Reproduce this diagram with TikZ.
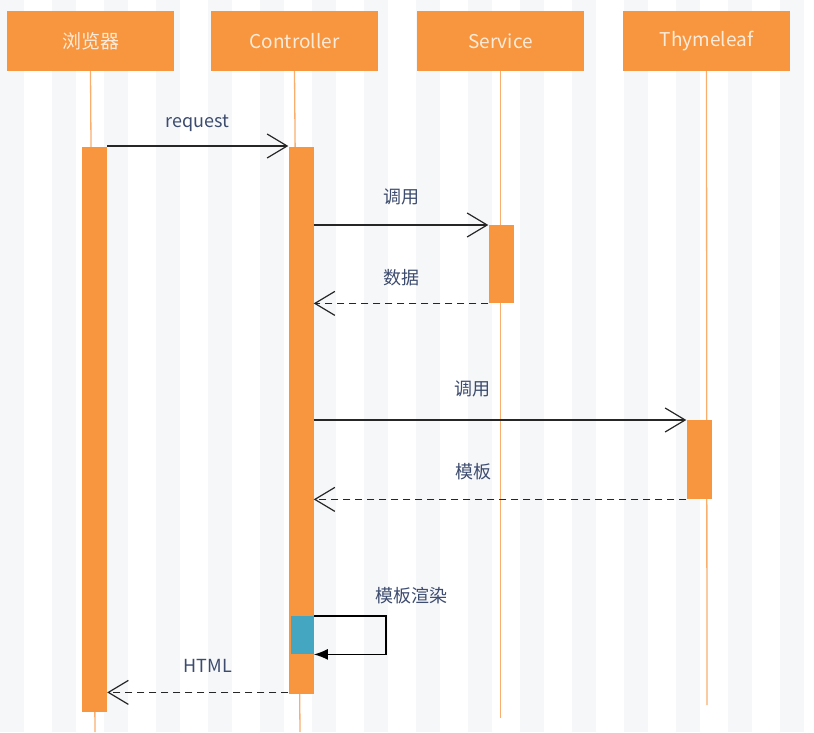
\documentclass[tikz,border=0pt]{standalone}
\usepackage{fontspec}
\setmainfont{Noto Sans CJK SC}
\usetikzlibrary{arrows.meta}

\definecolor{lifeorange}{HTML}{F7963F}
\definecolor{lineorange}{HTML}{F9AE6E}
\definecolor{headtext}{HTML}{FDEBDA}
\definecolor{labeltext}{HTML}{3C4B6E}
\definecolor{renderblue}{HTML}{45A6C2}
\definecolor{stripe}{HTML}{F6F7F9}

\tikzset{
  header/.style={fill=lifeorange, minimum width=167pt, minimum height=60pt,
    text=headtext, font=\fontsize{19}{22}\selectfont, inner sep=0pt},
  actbar/.style={fill=lifeorange, minimum width=25pt, inner sep=0pt, anchor=north},
  life/.style={lineorange, line width=1.3pt},
  msg/.style={black!85, line width=1.2pt, -{Straight Barb[length=20pt, width=24pt, line width=1.2pt]}},
  reply/.style={msg, dash pattern=on 7pt off 5pt},
  msglabel/.style={text=labeltext, font=\fontsize{18}{21}\selectfont},
}

\begin{document}
\begin{tikzpicture}[x=1pt, y=-1pt]

  \useasboundingbox (0,0) rectangle (814,732);
  % faint background stripes
  \foreach \x in {0,52,...,800}
    \fill[stripe] (\x,0) rectangle ++(24,732);

  % participants
  \node[header] (browser) at (90.5,41) {浏览器};
  \node[header] (ctrl) at (294.5,41) {Controller};
  \node[header] (service) at (500.5,41) {Service};
  \node[header] (thyme) at (706.5,41) {Thymeleaf};

  % lifelines
  \coordinate (browserend) at (95,732);
  \coordinate (ctrlend) at (300,732);
  \coordinate (serviceend) at (500.5,718);
  \coordinate (thymeend) at (707,705);
  \draw[life] (browser.south) -- (browserend);
  \draw[life] (ctrl.south) -- (ctrlend);
  \draw[life] (service.south) -- (serviceend);
  \draw[life] (thyme.south) -- (thymeend);

  % activation bars
  \node[actbar, minimum height=565pt] (browserbar) at (94.5,147) {};
  \node[actbar, minimum height=547pt] (ctrlbar) at (301,147) {};
  \node[actbar, minimum height=78pt] (servicebar) at (501,225) {};
  \node[actbar, minimum height=79pt] (thymebar) at (699,420) {};
  \node[fill=renderblue, minimum width=23pt, minimum height=38pt, inner sep=0pt,
    anchor=north west] (render) at (290.5,616) {};

  % messages
  \draw[msg] ([yshift=1pt]browserbar.north east) --
    node[msglabel, above=10pt] {request}
    ([yshift=1pt]ctrlbar.north west);

  \draw[msg] (ctrlbar.east |- servicebar.north west) --
    node[msglabel, above=16pt] {调用}
    (servicebar.north west);
  \draw[reply] (servicebar.south west) --
    node[msglabel, above=13pt] {数据}
    (ctrlbar.east |- servicebar.south west);

  \draw[msg] (ctrlbar.east |- thymebar.north west) --
    node[msglabel, above=19pt, xshift=-28pt] {调用}
    (thymebar.north west);
  \draw[reply] (thymebar.south west) --
    node[msglabel, above=16pt, xshift=-27pt] {模板}
    (ctrlbar.east |- thymebar.south west);

  % self call
  \draw[black, line width=1.2pt, -{Latex[length=14pt, width=11pt]}]
    (render.north east) -- ++(72,0) coordinate (loopcorner)
    |- (render.south east);
  \node[msglabel, above=9pt] (renderlabel) at ([xshift=26pt]loopcorner) {模板渲染};

  \coordinate (htmlstart) at ([yshift=2pt]ctrlbar.south west);
  \draw[reply] (htmlstart) --
    node[msglabel, above=16pt, xshift=10pt] {HTML}
    (browserbar.east |- htmlstart);

\end{tikzpicture}
\end{document}
